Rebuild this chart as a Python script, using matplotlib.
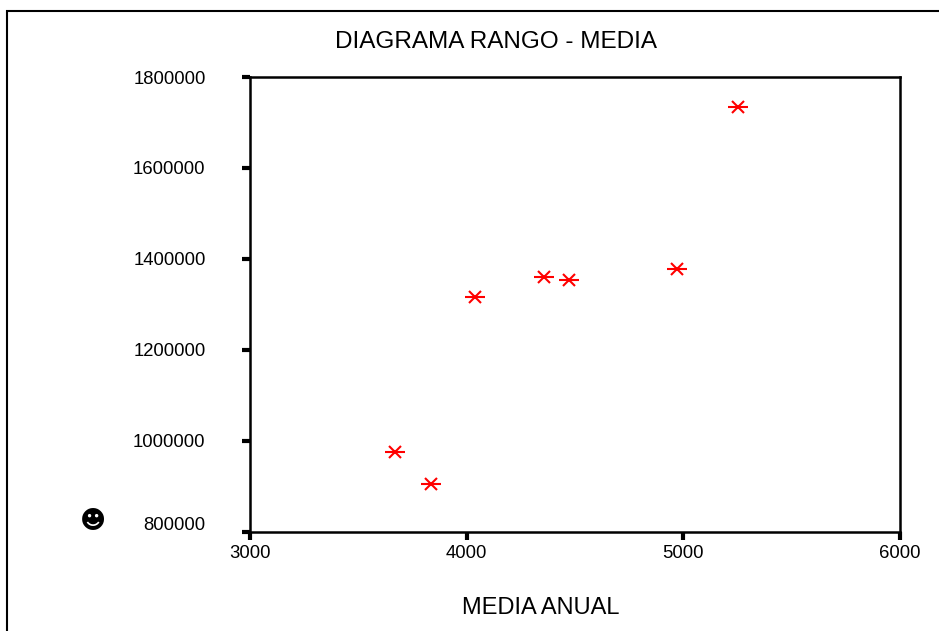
import matplotlib

matplotlib.use("Agg")
import matplotlib.pyplot as plt
from matplotlib.patches import Rectangle
from matplotlib.transforms import ScaledTranslation

# media anual vs rango
media_anual = [3669, 3835, 4038, 4357, 4472, 4971, 5252]
rango = [975000, 905000, 1316000, 1360000, 1354000, 1378000, 1734000]

x_ticks = [3000, 4000, 5000, 6000]
y_ticks = [800000, 1000000, 1200000, 1400000, 1600000, 1800000]

plt.rcParams["font.family"] = ["Liberation Sans", "DejaVu Sans"]

fig = plt.figure(figsize=(9.39, 6.31), dpi=100)
ax = fig.add_axes((250 / 939, 1 - 532 / 631, 650 / 939, 455 / 631))

# outer frame of the chart (runs off the right/bottom edge)
fig.patches.append(
    Rectangle((7 / 939, -0.05), 1.2, 1 - 11 / 631 + 0.05, transform=fig.transFigure,
              fill=False, edgecolor="black", linewidth=1.5)
)

# six-armed red star: long horizontal bar plus an x
ax.plot(media_anual, rango, linestyle="none", marker="_", markersize=14,
        markeredgewidth=1.5, color="red", clip_on=False)
ax.plot(media_anual, rango, linestyle="none", marker="x", markersize=8.5,
        markeredgewidth=1.5, color="red", clip_on=False)

ax.set_xlim(3000, 6000)
ax.set_ylim(800000, 1800000)
ax.set_xticks(x_ticks)
ax.set_yticks(y_ticks)
ax.set_xticklabels([str(v) for v in x_ticks])
ax.set_yticklabels([str(v) for v in y_ticks])
ax.tick_params(direction="out", length=6, width=3, labelsize=13.3, color="black")
ax.tick_params(axis="x", pad=3)
ax.tick_params(axis="y", pad=26)
for spine in ax.spines.values():
    spine.set_linewidth(1.8)

# lowest y label sits a bit above its tick in the original
lowest = ax.get_yticklabels()[0]
lowest.set_transform(lowest.get_transform() + ScaledTranslation(0, 8 / 100, fig.dpi_scale_trans))

fig.text(496 / 939, 1 - 42 / 631, "DIAGRAMA RANGO - MEDIA", ha="center", va="center", fontsize=17.5)
fig.text(541 / 939, 1 - 608 / 631, "MEDIA ANUAL", ha="center", va="center", fontsize=17)
fig.text(93 / 939, 1 - 520 / 631, "\u263b", ha="center", va="center", fontsize=18,
         family=["DejaVu Sans"])

fig.savefig("out.png", dpi=100)
plt.close(fig)
